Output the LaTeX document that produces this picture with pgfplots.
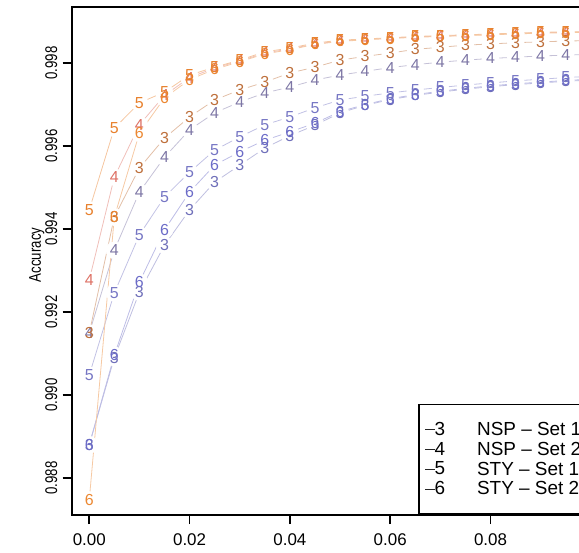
\documentclass[border=0pt]{standalone}
\usepackage{pgfplots}
\pgfplotsset{compat=1.18}
\usepackage{pgfplotstable}
\usepackage{fontspec}
\setmainfont{Liberation Sans}

\definecolor{o5}{RGB}{232,128,44}
\definecolor{o6}{RGB}{236,136,50}
\definecolor{o4}{RGB}{222,112,100}
\definecolor{o3}{RGB}{190,112,60}
\definecolor{b4}{RGB}{125,118,165}
\definecolor{b5}{RGB}{118,118,196}
\definecolor{b6}{RGB}{108,108,200}
\definecolor{b3}{RGB}{112,112,186}

\newcommand\tfont{\fontsize{17}{19}\selectfont}
\newcommand\lfont{\fontsize{19}{21}\selectfont}
\newcommand\mfont{\fontsize{16}{16}\selectfont}

\pgfplotstableread{
x     o5      o6      o4      o3      b4      b5      b6      b3
0.000 0.99446 0.98747 0.99277 0.99149 0.99149 0.99048 0.98880 0.98880
0.005 0.99643 0.99429 0.99525 0.99429 0.99349 0.99246 0.99096 0.99090
0.010 0.99704 0.99631 0.99651 0.99547 0.99489 0.99386 0.99272 0.99248
0.015 0.99730 0.99716 0.99722 0.99619 0.99573 0.99477 0.99398 0.99361
0.020 0.99771 0.99760 0.99765 0.99670 0.99639 0.99537 0.99489 0.99446
0.025 0.99790 0.99785 0.99788 0.99711 0.99680 0.99590 0.99554 0.99513
0.030 0.99807 0.99803 0.99805 0.99735 0.99706 0.99622 0.99586 0.99554
0.035 0.99827 0.99822 0.99824 0.99754 0.99728 0.99651 0.99614 0.99595
0.040 0.99836 0.99832 0.99834 0.99776 0.99742 0.99670 0.99634 0.99625
0.045 0.99848 0.99845 0.99846 0.99790 0.99759 0.99692 0.99655 0.99650
0.050 0.99855 0.99852 0.99853 0.99807 0.99771 0.99711 0.99683 0.99680
0.055 0.99858 0.99856 0.99857 0.99816 0.99780 0.99720 0.99700 0.99698
0.060 0.99861 0.99859 0.99860 0.99824 0.99789 0.99728 0.99714 0.99712
0.065 0.99864 0.99862 0.99863 0.99833 0.99796 0.99735 0.99724 0.99722
0.070 0.99866 0.99864 0.99865 0.99838 0.99802 0.99741 0.99732 0.99730
0.075 0.99868 0.99866 0.99867 0.99843 0.99807 0.99747 0.99739 0.99737
0.080 0.99870 0.99868 0.99869 0.99846 0.99811 0.99752 0.99745 0.99743
0.085 0.99872 0.99870 0.99871 0.99849 0.99814 0.99757 0.99750 0.99748
0.090 0.99874 0.99872 0.99873 0.99851 0.99817 0.99761 0.99754 0.99752
0.095 0.99875 0.99873 0.99874 0.99853 0.99819 0.99765 0.99758 0.99756
0.100 0.99876 0.99874 0.99875 0.99854 0.99821 0.99768 0.99761 0.99759
}\acc

\newcommand\lineplot[1]{\addplot[forget plot, color=#1!45!white, line width=0.8bp, no marks] table[x=x,y=#1]{\acc};}
\newcommand\gapplot[1]{\addplot[forget plot, only marks, color=white, mark=*, mark size=8.5bp] table[x=x,y=#1]{\acc};}
\newcommand\glyphplot[2]{\addplot[forget plot, only marks, color=#1, mark=text, text mark as node=true, text mark={#2}, text mark style={font=\mfont, inner sep=0pt, anchor=center}] table[x=x,y=#1]{\acc};}
\newcommand\legimg[1]{\addlegendimage{legend image code/.code={\draw[black!85, line width=0.7bp] (0bp,0bp) -- (10bp,0bp); \node[inner sep=0pt, anchor=west, font=\lfont] at (8.5bp,0bp) {#1};}}}

\begin{document}
\begin{tikzpicture}
\path[use as bounding box, clip] (-71.7bp,-38bp) rectangle (507.3bp,515bp);
\begin{axis}[
  scale only axis, width=539.2bp, height=508bp,
  xmin=-0.0035, xmax=0.104, ymin=0.98711, ymax=0.99935,
  axis line style={line width=2bp},
  tick pos=left, tick align=outside, major tick length=9bp,
  every tick/.style={black, line width=1.6bp},
  xtick={0,0.02,0.04,0.06,0.08},
  ytick={0.988,0.990,0.992,0.994,0.996,0.998},
  scaled ticks=false,
  xticklabel shift=6bp, yticklabel shift=2bp,
  xticklabel style={/pgf/number format/fixed, /pgf/number format/fixed zerofill, /pgf/number format/precision=2, /pgf/number format/assume math mode=true, font=\tfont},
  yticklabel style={/pgf/number format/fixed, /pgf/number format/fixed zerofill, /pgf/number format/precision=3, /pgf/number format/assume math mode=true, font=\tfont, rotate=90, anchor=south, xscale=0.78},
  ylabel={Accuracy},
  every axis y label/.style={at={(axis description cs:-0.0649,0.512)}, rotate=90, anchor=center, font=\tfont, xscale=0.78},
  legend style={at={(axis description cs:0.6425,0)}, anchor=south west, draw=black, line width=1.6bp, fill=white, font=\lfont, inner xsep=6bp, inner ysep=16bp, row sep=1bp, /tikz/every odd column/.append style={column sep=30bp}},
  legend cell align=left,
]
\lineplot{b3}\lineplot{b6}\lineplot{b5}\lineplot{b4}
\lineplot{o3}\lineplot{o4}\lineplot{o6}\lineplot{o5}
\gapplot{b3}\gapplot{b6}\gapplot{b5}\gapplot{b4}
\gapplot{o3}\gapplot{o4}\gapplot{o6}\gapplot{o5}
\glyphplot{b3}{3}\glyphplot{b6}{6}\glyphplot{b5}{5}\glyphplot{b4}{4}
\glyphplot{o3}{3}\glyphplot{o4}{4}\glyphplot{o6}{6}\glyphplot{o5}{5}
\legimg{3}\addlegendentry{NSP -- Set 1}
\legimg{4}\addlegendentry{NSP -- Set 2}
\legimg{5}\addlegendentry{STY -- Set 1}
\legimg{6}\addlegendentry{STY -- Set 2}
\end{axis}
\end{tikzpicture}
\end{document}
